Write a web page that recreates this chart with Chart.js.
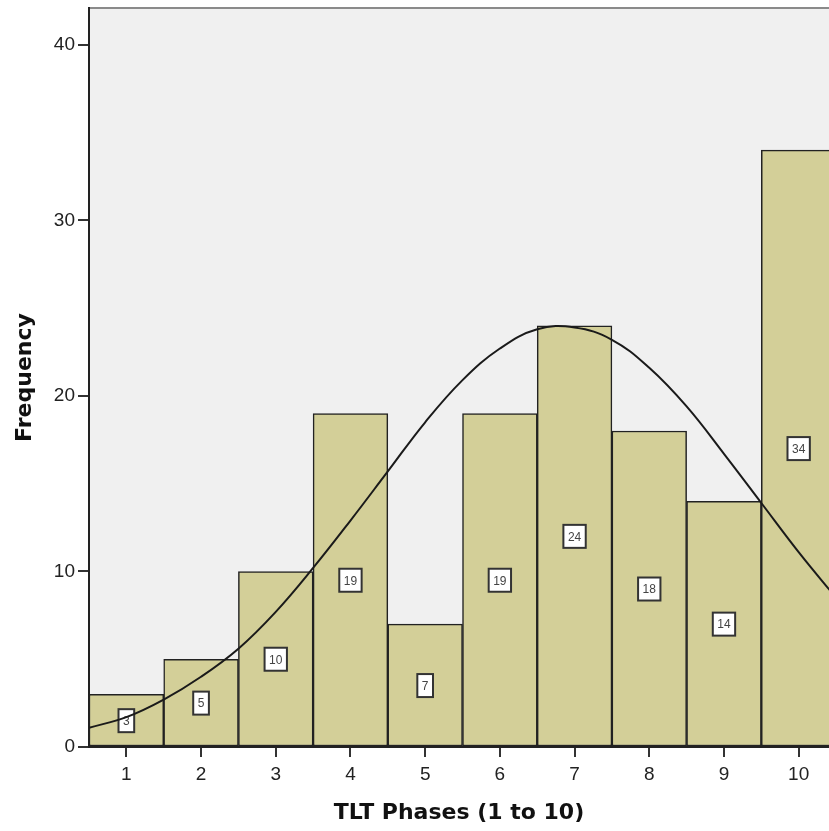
<!DOCTYPE html>
<html lang="en">
<head>
  <meta charset="UTF-8" />
  <title>TLT Phases histogram</title>
  <style>
    body {
      margin: 0;
      background: white;
      overflow: hidden;
    }
    #wrap {
      width: 829px;
      height: 831px;
    }
  </style>
</head>
<body>

  <div id="wrap">
    <canvas id="histChart" width="829" height="831"></canvas>
  </div>

  <script src="https://cdn.jsdelivr.net/npm/chart.js"></script>
  <script>
    // data
    const phases = [1, 2, 3, 4, 5, 6, 7, 8, 9, 10];
    const counts = [3, 5, 10, 19, 7, 19, 24, 18, 14, 34];
    const yTicks = [0, 10, 20, 30, 40];

    // normal curve, read at half steps
    const curveX = [0.5, 1, 1.5, 2, 2.5, 3, 3.5, 4, 4.5, 5, 5.5, 6, 6.5, 7, 7.5, 8, 8.5, 9, 9.5, 10, 10.5];
    const curveY = [1.1, 1.7, 2.7, 4.0, 5.6, 7.7, 10.2, 12.9, 15.7, 18.5, 20.9, 22.7, 23.8, 23.9, 23.2, 21.6, 19.4, 16.7, 13.9, 11.1, 8.5];

    const barColor = '#d3cf98';
    const lineColor = '#1a1a1a';

    const plotBackground = {
      id: 'plotBackground',
      beforeDraw(chart) {
        const { ctx, chartArea } = chart;
        ctx.save();
        ctx.fillStyle = '#f0f0f0';
        ctx.fillRect(chartArea.left, chartArea.top, chartArea.right - chartArea.left, chartArea.bottom - chartArea.top);
        ctx.strokeStyle = '#8a8a8a';
        ctx.lineWidth = 2;
        ctx.beginPath();
        ctx.moveTo(chartArea.left, chartArea.top);
        ctx.lineTo(chartArea.right, chartArea.top);
        ctx.stroke();
        ctx.restore();
      }
    };

    // boxed count labels, drawn after the bars and before the curve
    const boxLabels = {
      id: 'boxLabels',
      afterDatasetDraw(chart, args) {
        if (args.index !== 1) return;
        const { ctx } = chart;
        const yScale = chart.scales.y;
        ctx.save();
        ctx.font = '12px "Liberation Sans", Arial, sans-serif';
        ctx.textAlign = 'center';
        ctx.textBaseline = 'middle';
        args.meta.data.forEach((bar, i) => {
          const text = String(counts[i]);
          const cx = bar.x;
          const cy = yScale.getPixelForValue(counts[i] / 2);
          const w = ctx.measureText(text).width + 9;
          const h = 23;
          ctx.fillStyle = 'white';
          ctx.fillRect(cx - w / 2, cy - h / 2, w, h);
          ctx.strokeStyle = '#333';
          ctx.lineWidth = 2;
          ctx.strokeRect(cx - w / 2, cy - h / 2, w, h);
          ctx.fillStyle = '#444';
          ctx.fillText(text, cx, cy + 1);
        });
        ctx.restore();
      }
    };

    const ctx = document.getElementById('histChart').getContext('2d');

    new Chart(ctx, {
      type: 'bar',
      data: {
        datasets: [
          {
            type: 'line',
            label: 'Normal',
            data: curveX.map((x, i) => ({ x: x, y: curveY[i] })),
            borderColor: lineColor,
            borderWidth: 2,
            pointRadius: 0,
            tension: 0.4,
            fill: false
          },
          {
            type: 'bar',
            label: 'Frequency',
            data: phases.map((p, i) => ({ x: p, y: counts[i] })),
            backgroundColor: barColor,
            borderColor: '#222',
            borderWidth: 1.5,
            borderSkipped: false,
            barPercentage: 1,
            categoryPercentage: 1
          }
        ]
      },
      options: {
        responsive: false,
        animation: false,
        layout: { padding: { top: 8, right: 0, left: 0, bottom: 0 } },
        plugins: {
          legend: { display: false },
          tooltip: { enabled: false }
        },
        scales: {
          x: {
            type: 'linear',
            offset: false,
            min: 0.5,
            max: 10.406,
            afterBuildTicks: (scale) => { scale.ticks = phases.map(v => ({ value: v })); },
            afterFit: (scale) => {
              scale.height = 84;
              scale.paddingLeft = 0;
              scale.paddingRight = 0;
            },
            grid: { offset: false, drawOnChartArea: false, drawTicks: true, tickLength: 10, color: '#333', lineWidth: 2 },
            border: { color: '#222', width: 2 },
            ticks: {
              color: '#222',
              padding: 6,
              font: { family: '"Liberation Sans", Arial, sans-serif', size: 19 }
            },
            title: {
              display: true,
              text: 'TLT Phases (1 to 10)',
              color: '#111',
              padding: { top: 0, bottom: 5 },
              font: { family: '"DejaVu Sans", Verdana, sans-serif', size: 22, weight: 'bold' }
            }
          },
          y: {
            type: 'linear',
            min: 0,
            max: 42.1,
            afterBuildTicks: (scale) => { scale.ticks = yTicks.map(v => ({ value: v })); },
            afterFit: (scale) => {
              scale.width = 89;
              scale.paddingTop = 0;
              scale.paddingBottom = 0;
            },
            grid: { drawOnChartArea: false, drawTicks: true, tickLength: 11, color: '#333', lineWidth: 2 },
            border: { color: '#222', width: 2 },
            ticks: {
              color: '#222',
              padding: 3,
              font: { family: '"Liberation Sans", Arial, sans-serif', size: 19 }
            },
            title: {
              display: true,
              text: 'Frequency',
              color: '#111',
              padding: { top: 12, bottom: 0 },
              font: { family: '"DejaVu Sans", Verdana, sans-serif', size: 22, weight: 'bold' }
            }
          }
        }
      },
      plugins: [plotBackground, boxLabels]
    });
  </script>

</body>
</html>
